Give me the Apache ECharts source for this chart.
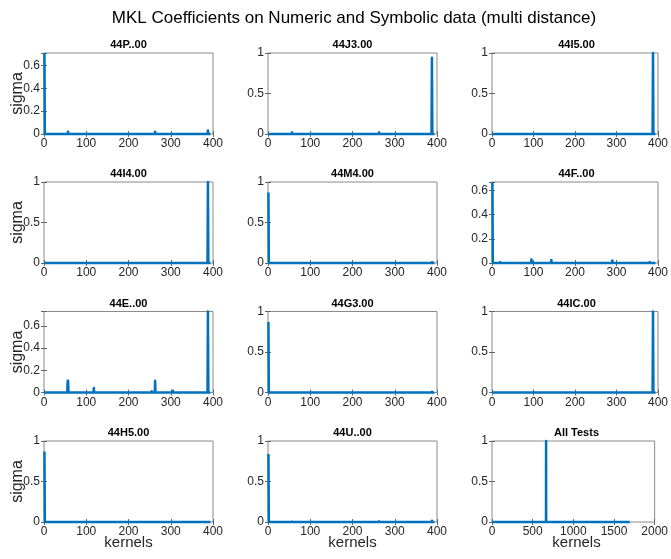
<!DOCTYPE html>
<html>
<head>
<meta charset="utf-8">
<script src="https://cdn.jsdelivr.net/npm/echarts@6/dist/echarts.min.js"></script>
<style>
  html, body { margin: 0; padding: 0; background: #fff; }
  #chart { width: 671px; height: 559px; }
</style>
</head>
<body>
<div id="chart"></div>
<script>
// MKL kernel weights (sigma) per test, one panel per test
const mainTitle = 'MKL Coefficients on Numeric and Symbolic data (multi distance)';
const panelTitles = ['44P..00', '44J3.00', '44I5.00', '44I4.00', '44M4.00', '44F..00',
                     '44E..00', '44G3.00', '44IC.00', '44H5.00', '44U..00', 'All Tests'];

// number of kernels in each panel
const kernelCounts = [394, 394, 394, 394, 394, 394, 394, 394, 394, 394, 394, 1694];
const baselineSigma = 0;

// non-zero weights: [kernel index, sigma]
const sigma44P = [[1, 0.71], [57, 0.02], [263, 0.02], [388, 0.03]];
const sigma44J3 = [[57, 0.02], [263, 0.02], [388, 0.94]];
const sigma44I5 = [[388, 1.0]];
const sigma44I4 = [[388, 1.0]];
const sigma44M4 = [[1, 0.87], [388, 0.01]];
const sigma44F = [[1, 0.67], [20, 0.008], [95, 0.03], [143, 0.025], [290, 0.02], [380, 0.008]];
const sigma44E = [[56, 0.105], [57, 0.105], [118, 0.04], [255, 0.01], [263, 0.105], [305, 0.015], [388, 0.73]];
const sigma44G3 = [[1, 0.87], [388, 0.01]];
const sigma44IC = [[388, 1.0]];
const sigma44H5 = [[1, 0.87]];
const sigma44U = [[1, 0.84], [57, 0.005], [263, 0.008], [388, 0.015]];
const sigmaAll = [[665, 1.0]];

const panelSigmas = [sigma44P, sigma44J3, sigma44I5, sigma44I4, sigma44M4, sigma44F,
                     sigma44E, sigma44G3, sigma44IC, sigma44H5, sigma44U, sigmaAll];

// axis limits and tick steps
const yMaxes = [0.71, 1, 1, 1, 1, 0.67, 0.73, 1, 1, 1, 1, 1];
const ySteps = [0.2, 0.5, 0.5, 0.5, 0.5, 0.2, 0.2, 0.5, 0.5, 0.5, 0.5, 0.5];
const xMaxes = [400, 400, 400, 400, 400, 400, 400, 400, 400, 400, 400, 2000];
const xSteps = [100, 100, 100, 100, 100, 100, 100, 100, 100, 100, 100, 500];

// subplot layout
const colLefts = [44, 268, 492];
const rowTops = [53, 182, 311.5, 441];
const plotW = 169, plotH = 81;

const FONT = 'Liberation Sans, Arial, Helvetica, sans-serif';
const LINE_BLUE = '#0072BD';
const TEXT = '#262626';

function buildSeries(count, spikes) {
  const ys = new Array(count).fill(baselineSigma);
  spikes.forEach(([k, v]) => { ys[k - 1] = v; });
  return ys.map((v, i) => [i + 1, v]);
}

function onStep(step) {
  return function (v) {
    const r = v / step;
    return Math.abs(r - Math.round(r)) < 1e-6 ? String(+v.toFixed(2)) : '';
  };
}

// One unbroken polyline through every kernel point, so narrow spikes stay vertical
function renderTrace(params, api) {
  if (params.dataIndexInside !== 0) return null;
  const pts = [];
  for (let j = 0; j < params.dataInsideLength; j++) {
    pts.push(api.coord([api.value(0, j), api.value(1, j)]));
  }
  return {
    type: 'polyline',
    shape: { points: pts },
    style: { stroke: LINE_BLUE, lineWidth: 2.5, fill: null, lineJoin: 'round', lineCap: 'butt' },
    silent: true
  };
}

const grid = [], xAxis = [], yAxis = [], series = [], graphic = [];

graphic.push({
  type: 'text', x: 354, y: 18,
  style: { text: mainTitle, font: '17px ' + FONT, fill: '#000', align: 'center', verticalAlign: 'middle' }
});

panelTitles.forEach((name, i) => {
  const r = Math.floor(i / 3), c = i % 3;
  const left = colLefts[c], top = rowTops[r];
  grid.push({
    left: left, top: top, width: plotW, height: plotH,
    show: true, borderColor: '#8a8a8a', borderWidth: 1, backgroundColor: '#fff'
  });
  const tickStyle = { show: true, inside: true, length: 3, lineStyle: { color: '#666', width: 1 } };
  // bottom / left axes carry labels
  xAxis.push({
    type: 'value', gridIndex: i, min: 0, max: xMaxes[i], interval: xSteps[i],
    axisLine: { show: false }, axisTick: tickStyle, splitLine: { show: false },
    axisLabel: { fontFamily: FONT, fontSize: 12, color: TEXT, margin: 4, formatter: onStep(xSteps[i]) }
  });
  yAxis.push({
    type: 'value', gridIndex: i, min: 0, max: yMaxes[i], interval: ySteps[i],
    axisLine: { show: false }, axisTick: tickStyle, splitLine: { show: false },
    axisLabel: { fontFamily: FONT, fontSize: 12, color: TEXT, margin: 4, formatter: onStep(ySteps[i]) }
  });
  // mirrored ticks on top / right
  xAxis.push({
    type: 'value', gridIndex: i, position: 'top', min: 0, max: xMaxes[i], interval: xSteps[i],
    axisLine: { show: false }, axisTick: tickStyle, splitLine: { show: false },
    axisLabel: { show: false }
  });
  yAxis.push({
    type: 'value', gridIndex: i, position: 'right', min: 0, max: yMaxes[i], interval: ySteps[i],
    axisLine: { show: false }, axisTick: tickStyle, splitLine: { show: false },
    axisLabel: { show: false }
  });
  series.push({
    type: 'custom', xAxisIndex: 2 * i, yAxisIndex: 2 * i,
    data: buildSeries(kernelCounts[i], panelSigmas[i]),
    encode: { x: 0, y: 1 },
    renderItem: renderTrace,
    clip: false, silent: true
  });
  graphic.push({
    type: 'text', x: left + plotW / 2, y: top - 8,
    style: { text: name, font: 'bold 11px ' + FONT, fill: '#000', align: 'center', verticalAlign: 'middle' }
  });
  if (c === 0) {
    graphic.push({
      type: 'text', x: 18, y: top + plotH / 2, rotation: Math.PI / 2,
      style: { text: 'sigma', font: '16px ' + FONT, fill: TEXT, align: 'center', verticalAlign: 'middle' }
    });
  }
  if (r === 3) {
    graphic.push({
      type: 'text', x: left + plotW / 2, y: 543,
      style: { text: 'kernels', font: '15px ' + FONT, fill: TEXT, align: 'center', verticalAlign: 'middle' }
    });
  }
});

const chart = echarts.init(document.getElementById('chart'), null, { renderer: 'canvas' });
chart.setOption({
  animation: false,
  backgroundColor: '#fff',
  grid: grid,
  xAxis: xAxis,
  yAxis: yAxis,
  series: series,
  graphic: graphic
});
</script>
</body>
</html>
